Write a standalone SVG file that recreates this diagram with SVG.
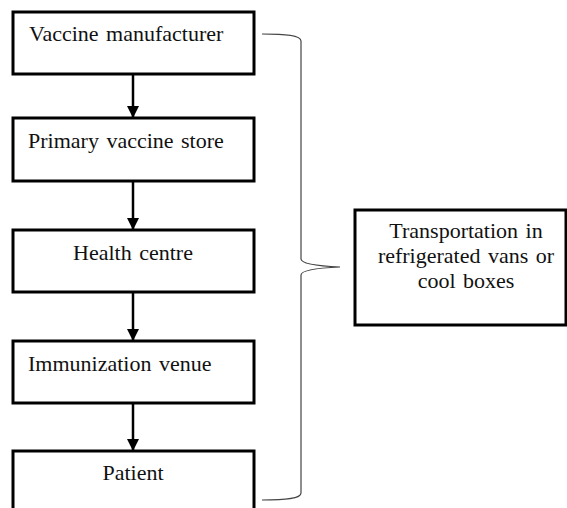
<svg xmlns="http://www.w3.org/2000/svg" width="567" height="508" viewBox="0 0 567 508">
  <style>
    .box { fill: #ffffff; stroke: #000000; stroke-width: 3; }
    .label { font-family: "Liberation Serif", "Times New Roman", serif; font-size: 22px; word-spacing: 2px; fill: #111111; }
    .flow { stroke: #000000; stroke-width: 2.5; fill: none; }
    .brace { stroke: #444444; stroke-width: 1.2; fill: none; }
  </style>
  <defs>
    <marker id="arrowhead" markerWidth="12" markerHeight="12" refX="11" refY="6" orient="auto" markerUnits="userSpaceOnUse">
      <path d="M0,0 L12,6 L0,12 Z" fill="#000000"/>
    </marker>
  </defs>

  <g id="node-manufacturer">
    <rect class="box" x="13" y="12" width="241" height="62"/>
    <text class="label" x="29" y="41">Vaccine manufacturer</text>
  </g>
  <g id="node-primary-store">
    <rect class="box" x="13" y="118" width="241" height="63"/>
    <text class="label" x="28" y="148">Primary vaccine store</text>
  </g>
  <g id="node-health-centre">
    <rect class="box" x="13" y="230" width="241" height="62"/>
    <text class="label" x="133" y="260" text-anchor="middle">Health centre</text>
  </g>
  <g id="node-immunization-venue">
    <rect class="box" x="13" y="341" width="241" height="62"/>
    <text class="label" x="28" y="371">Immunization venue</text>
  </g>
  <g id="node-patient">
    <rect class="box" x="13" y="451" width="241" height="62"/>
    <text class="label" x="133" y="480" text-anchor="middle">Patient</text>
  </g>
  <g id="node-transport">
    <rect class="box" x="355" y="210" width="211" height="115"/>
    <text class="label" x="466" y="238" text-anchor="middle">Transportation in</text>
    <text class="label" x="466" y="263" text-anchor="middle">refrigerated vans or</text>
    <text class="label" x="466" y="288" text-anchor="middle">cool boxes</text>
  </g>

  <g id="connectors">
    <line class="flow" x1="133" y1="75" x2="133" y2="117" marker-end="url(#arrowhead)"/>
    <line class="flow" x1="133" y1="182" x2="133" y2="229" marker-end="url(#arrowhead)"/>
    <line class="flow" x1="133" y1="293" x2="133" y2="340" marker-end="url(#arrowhead)"/>
    <line class="flow" x1="133" y1="404" x2="133" y2="450" marker-end="url(#arrowhead)"/>
    <path class="brace" d="M262,34 C285,34 301,35 301,41 L301,259 C301,264 318,266 340,267 C318,268 301,270 301,275 L301,493 C301,499 285,500 262,500"/>
  </g>
</svg>
